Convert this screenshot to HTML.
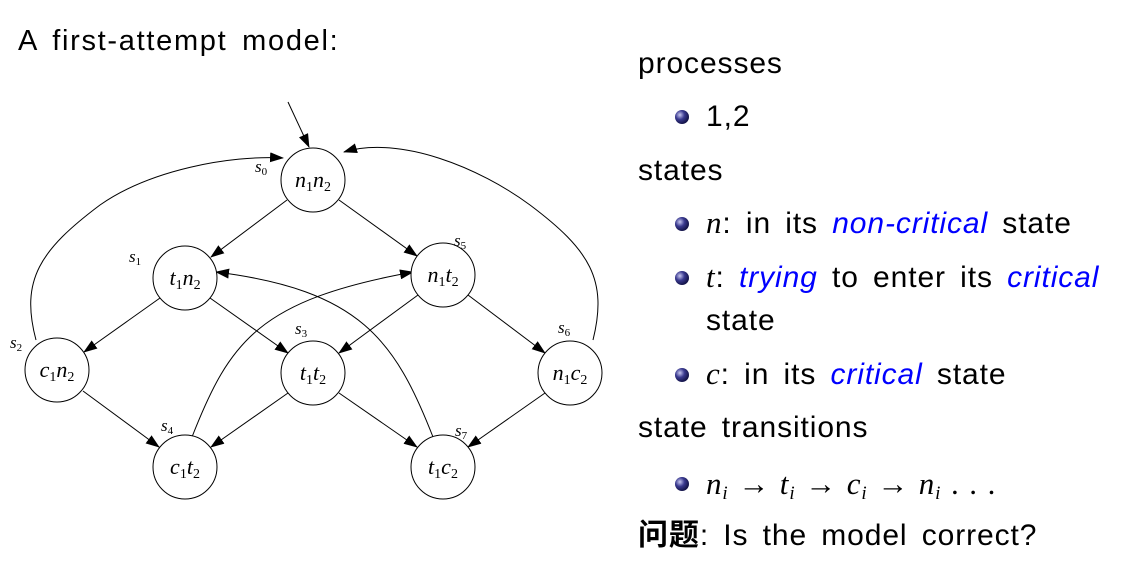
<!DOCTYPE html>
<html><head><meta charset="utf-8"><style>
body{margin:0;background:#fff;width:1127px;height:574px;overflow:hidden}
svg text{font-family:"Liberation Sans","Noto Sans CJK SC",sans-serif}
svg .m, svg .m text, svg text.m, svg tspan.m{font-family:"Liberation Serif",serif;font-style:italic}
svg .s{font-style:normal}
.b{fill:#0000ff;font-style:italic}
.d{letter-spacing:0.9px;word-spacing:5px}
</style></head><body>
<svg width="1127" height="574" viewBox="0 0 1127 574">
<defs>
<marker id="ar" markerWidth="14" markerHeight="10" refX="13" refY="5" orient="auto" markerUnits="userSpaceOnUse"><path d="M0,0 L14,5 L0,10 z" fill="#000"/></marker>
<radialGradient id="bul" cx="35%" cy="35%" r="65%"><stop offset="0" stop-color="#c8c8f0"/><stop offset="0.5" stop-color="#3a3a90"/><stop offset="1" stop-color="#14144a"/></radialGradient>
</defs>
<text x="18" y="50" font-size="29" style="letter-spacing:1.7px;word-spacing:5px">A first-attempt model:</text>
<g fill="none" stroke="#000" stroke-width="1">
<line x1="288" y1="102" x2="309" y2="147" marker-end="url(#ar)"/>
<line x1="287" y1="200" x2="211" y2="257" marker-end="url(#ar)"/>
<line x1="339" y1="200" x2="417" y2="256" marker-end="url(#ar)"/>
<line x1="160" y1="298" x2="84" y2="352" marker-end="url(#ar)"/>
<line x1="210" y1="298" x2="288" y2="353" marker-end="url(#ar)"/>
<line x1="418" y1="295" x2="339" y2="353" marker-end="url(#ar)"/>
<line x1="468" y1="295" x2="545" y2="353" marker-end="url(#ar)"/>
<line x1="83" y1="391" x2="159" y2="447" marker-end="url(#ar)"/>
<line x1="288" y1="393" x2="211" y2="447" marker-end="url(#ar)"/>
<line x1="339" y1="393" x2="417" y2="447" marker-end="url(#ar)"/>
<line x1="545" y1="393" x2="468" y2="447" marker-end="url(#ar)"/>
<path d="M36,340 C20,280 40,250 100,205 C150,170 230,155 283,158" marker-end="url(#ar)"/>
<path d="M593,340 C608,280 590,250 530,205 C480,168 400,135 344,152" marker-end="url(#ar)"/>
<path d="M192,437 C230,340 260,300 413,272" marker-end="url(#ar)"/>
<path d="M433,437 C395,340 360,290 216,272" marker-end="url(#ar)"/>
</g>
<g fill="#fff" stroke="#000" stroke-width="1">
<circle cx="313" cy="180" r="32"/><circle cx="185" cy="278" r="32"/><circle cx="443" cy="275" r="32"/>
<circle cx="57" cy="370" r="32"/><circle cx="313" cy="373" r="32"/><circle cx="570" cy="373" r="32"/>
<circle cx="185" cy="467" r="32"/><circle cx="443" cy="467" r="32"/>
</g>
<g class="m" font-size="22" text-anchor="middle">
<text x="313" y="187">n<tspan class="s" font-size="14" dy="4">1</tspan><tspan dy="-4">n</tspan><tspan class="s" font-size="14" dy="4">2</tspan></text>
<text x="185" y="285">t<tspan class="s" font-size="14" dy="4">1</tspan><tspan dy="-4">n</tspan><tspan class="s" font-size="14" dy="4">2</tspan></text>
<text x="443" y="282">n<tspan class="s" font-size="14" dy="4">1</tspan><tspan dy="-4">t</tspan><tspan class="s" font-size="14" dy="4">2</tspan></text>
<text x="57" y="377">c<tspan class="s" font-size="14" dy="4">1</tspan><tspan dy="-4">n</tspan><tspan class="s" font-size="14" dy="4">2</tspan></text>
<text x="313" y="380">t<tspan class="s" font-size="14" dy="4">1</tspan><tspan dy="-4">t</tspan><tspan class="s" font-size="14" dy="4">2</tspan></text>
<text x="570" y="380">n<tspan class="s" font-size="14" dy="4">1</tspan><tspan dy="-4">c</tspan><tspan class="s" font-size="14" dy="4">2</tspan></text>
<text x="185" y="474">c<tspan class="s" font-size="14" dy="4">1</tspan><tspan dy="-4">t</tspan><tspan class="s" font-size="14" dy="4">2</tspan></text>
<text x="443" y="474">t<tspan class="s" font-size="14" dy="4">1</tspan><tspan dy="-4">c</tspan><tspan class="s" font-size="14" dy="4">2</tspan></text>
</g>
<g class="m" font-size="17">
<text x="255" y="172">s<tspan class="s" font-size="11" dy="3">0</tspan></text>
<text x="129" y="262">s<tspan class="s" font-size="11" dy="3">1</tspan></text>
<text x="454" y="246">s<tspan class="s" font-size="11" dy="3">5</tspan></text>
<text x="10" y="348">s<tspan class="s" font-size="11" dy="3">2</tspan></text>
<text x="295" y="334">s<tspan class="s" font-size="11" dy="3">3</tspan></text>
<text x="558" y="333">s<tspan class="s" font-size="11" dy="3">6</tspan></text>
<text x="161" y="431">s<tspan class="s" font-size="11" dy="3">4</tspan></text>
<text x="455" y="436">s<tspan class="s" font-size="11" dy="3">7</tspan></text>
</g>
<g font-size="30" class="d">
<text x="638" y="73">processes</text>
<circle cx="682" cy="117" r="7" fill="url(#bul)"/><text x="706" y="126">1,2</text>
<text x="638" y="180">states</text>
<circle cx="682" cy="224" r="7" fill="url(#bul)"/><text x="706" y="233"><tspan class="m" font-size="31">n</tspan>:  in its <tspan class="b">non-critical</tspan> state</text>
<circle cx="682" cy="278" r="7" fill="url(#bul)"/><text x="706" y="287"><tspan class="m" font-size="31">t</tspan>:  <tspan class="b">trying</tspan> to enter its <tspan class="b">critical</tspan></text>
<text x="706" y="330">state</text>
<circle cx="682" cy="375" r="7" fill="url(#bul)"/><text x="706" y="384"><tspan class="m" font-size="31">c</tspan>:  in its <tspan class="b">critical</tspan> state</text>
<text x="638" y="437">state transitions</text>
<circle cx="682" cy="484" r="7" fill="url(#bul)"/><text x="706" y="494" class="m" font-size="31" style="word-spacing:1px">n<tspan font-size="19" dy="5">i</tspan><tspan dy="-5" class="s"> → </tspan>t<tspan font-size="19" dy="5">i</tspan><tspan dy="-5" class="s"> → </tspan>c<tspan font-size="19" dy="5">i</tspan><tspan dy="-5" class="s"> → </tspan>n<tspan font-size="19" dy="5">i</tspan><tspan dy="-5" class="s"> . . .</tspan></text>
<text x="638" y="545"><tspan font-weight="bold">问题</tspan>: Is the model correct?</text>
</g>
</svg>
</body></html>
